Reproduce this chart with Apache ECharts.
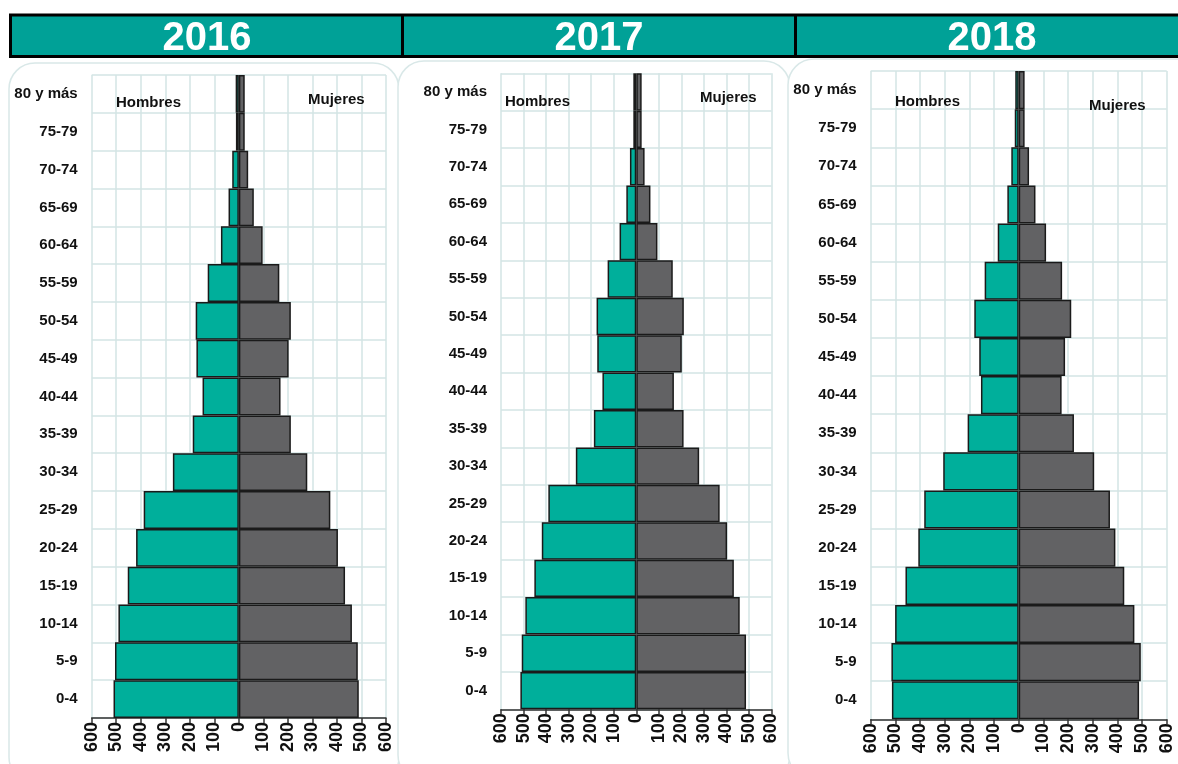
<!DOCTYPE html>
<html>
<head>
<meta charset="utf-8">
<script src="https://cdn.jsdelivr.net/npm/echarts@6/dist/echarts.min.js"></script>
<style>
html,body{margin:0;padding:0;background:#fff;}
#c{width:1178px;height:764px;}
</style>
</head>
<body>
<div id="c"></div>
<script>
const categories = ['0-4','5-9','10-14','15-19','20-24','25-29','30-34','35-39','40-44','45-49','50-54','55-59','60-64','65-69','70-74','75-79','80 y más'];
const years = ['2016','2017','2018'];

const hombres2016 = [511,505,491,453,419,388,269,188,148,173,176,127,73,42,27,12,13];
const mujeres2016 = [489,485,461,433,404,373,279,212,170,203,212,165,97,61,38,24,24];
const hombres2017 = [514,508,492,452,419,390,268,188,150,173,176,127,74,44,28,13,13];
const mujeres2017 = [487,487,459,433,403,370,279,210,167,202,211,162,94,63,37,24,24];
const hombres2018 = [514,516,501,459,407,383,306,207,153,160,180,138,85,46,30,16,14];
const mujeres2018 = [488,495,469,428,392,370,306,224,174,188,213,176,111,68,42,24,24];

const hombres = [hombres2016, hombres2017, hombres2018];
const mujeres = [mujeres2016, mujeres2017, mujeres2018];

const grids = [
  {left: 91.7, top: 75, width: 294.3, height: 643},
  {left: 501, top: 73.3, width: 270.5, height: 636},
  {left: 870.7, top: 71, width: 296, height: 648.3}
];
const labelPos = [
  {h: [116, 103], m: [308, 100]},
  {h: [505, 102], m: [700, 98]},
  {h: [895, 102], m: [1089, 106]}
];
const headerCenters = [207, 599, 992];

const TEAL = '#00AF9B';
const GRAY = '#626264';
const GRID_LINE = '#d3e5e5';
const FONT = '"Liberation Sans", Arial, sans-serif';

const chart = echarts.init(document.getElementById('c'), null, {renderer: 'canvas'});

const xAxes = [], yAxes = [], series = [];
years.forEach((y, i) => {
  xAxes.push({
    type: 'value', gridIndex: i, min: -600, max: 600, interval: 100,
    axisLine: {show: true, onZero: false, lineStyle: {color: '#333', width: 1.5}},
    axisTick: {show: true, length: 5, lineStyle: {color: '#333', width: 1.5}},
    splitLine: {show: true, lineStyle: {color: GRID_LINE, width: 1.5}},
    axisLabel: {
      rotate: 90, margin: 4, fontFamily: FONT, fontWeight: 'bold', fontSize: 18, color: '#111',
      formatter: v => String(Math.abs(v))
    }
  });
  yAxes.push({
    type: 'category', gridIndex: i, data: categories,
    axisLine: {show: false}, axisTick: {show: false},
    splitLine: {show: true, lineStyle: {color: GRID_LINE, width: 1.5}},
    axisLabel: {margin: 14, fontFamily: FONT, fontWeight: 'bold', fontSize: 15, color: '#111'}
  });
  series.push({
    name: 'Hombres ' + y, type: 'bar', xAxisIndex: i, yAxisIndex: i, stack: 's' + i,
    barCategoryGap: '0%',
    data: hombres[i].map(v => -v),
    itemStyle: {color: TEAL, borderColor: '#1a1a1a', borderWidth: 1.5},
    silent: true, animation: false
  });
  series.push({
    name: 'Mujeres ' + y, type: 'bar', xAxisIndex: i, yAxisIndex: i, stack: 's' + i,
    barCategoryGap: '0%',
    data: mujeres[i],
    itemStyle: {color: GRAY, borderColor: '#1a1a1a', borderWidth: 1.5},
    silent: true, animation: false
  });
});

const graphics = [];
const panels = [
  {x: 9, y: 63, w: 390, h: 720},
  {x: 398, y: 61, w: 392, h: 720},
  {x: 788, y: 59, w: 420, h: 720}
];
panels.forEach(p => graphics.push({
  type: 'rect', z: -10, silent: true,
  shape: {x: p.x, y: p.y, width: p.w, height: p.h, r: 26},
  style: {fill: '#fff', stroke: '#d9e8e8', lineWidth: 1.5}
}));
graphics.push({
  type: 'rect', z: 5, silent: true,
  shape: {x: 10.5, y: 15, width: 1180, height: 41.5},
  style: {fill: '#00A197', stroke: '#000', lineWidth: 3}
});
[402.5, 795.5].forEach(x => graphics.push({
  type: 'line', z: 6, silent: true,
  shape: {x1: x, y1: 15, x2: x, y2: 56.5},
  style: {stroke: '#000', lineWidth: 3}
}));
years.forEach((y, i) => {
  graphics.push({
    type: 'text', z: 7, silent: true, x: headerCenters[i], y: 38.5,
    style: {text: y, fill: '#fff', font: 'bold 40px ' + FONT, align: 'center', verticalAlign: 'middle'}
  });
  graphics.push({
    type: 'text', z: 7, silent: true, x: labelPos[i].h[0], y: labelPos[i].h[1],
    style: {text: 'Hombres', fill: '#111', font: 'bold 15px ' + FONT, align: 'left', verticalAlign: 'middle'}
  });
  graphics.push({
    type: 'text', z: 7, silent: true, x: labelPos[i].m[0], y: labelPos[i].m[1],
    style: {text: 'Mujeres', fill: '#111', font: 'bold 15px ' + FONT, align: 'left', verticalAlign: 'middle'}
  });
});

chart.setOption({
  animation: false,
  backgroundColor: '#fff',
  grid: grids.map(g => ({left: g.left, top: g.top, width: g.width, height: g.height, containLabel: false})),
  xAxis: xAxes,
  yAxis: yAxes,
  series: series,
  graphic: graphics
});
</script>
</body>
</html>
